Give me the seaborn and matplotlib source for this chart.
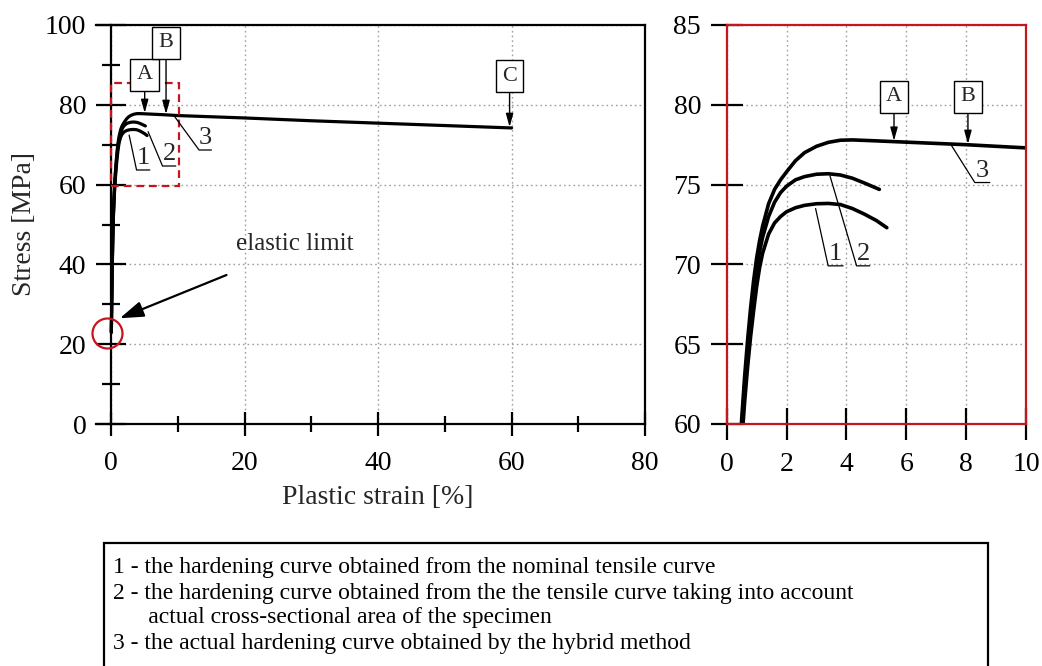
import matplotlib
matplotlib.use("Agg")
import matplotlib.pyplot as plt
from matplotlib.patches import Rectangle
import numpy as np
import pandas as pd
import seaborn as sns

# Hardening curves: plastic strain [%] vs stress [MPa]
strain_1 = [0.0, 0.1, 0.2, 0.3, 0.4, 0.5, 0.6, 0.7, 0.8, 0.9, 1.0, 1.1, 1.2, 1.4,
            1.6, 1.8, 2.0, 2.3, 2.6, 3.0, 3.4, 3.8, 4.2, 4.6, 5.0, 5.35]
stress_1 = [23.0, 35.0, 45.0, 51.5, 55.8, 58.8, 61.4, 63.6, 65.5, 67.1, 68.6, 69.8, 70.7, 71.9,
            72.6, 73.0, 73.3, 73.55, 73.7, 73.8, 73.82, 73.75, 73.5, 73.15, 72.75, 72.3]

strain_2 = [0.0, 0.1, 0.2, 0.3, 0.4, 0.5, 0.6, 0.7, 0.8, 0.9, 1.0, 1.1, 1.2, 1.4,
            1.6, 1.8, 2.0, 2.3, 2.6, 3.0, 3.4, 3.8, 4.2, 4.6, 5.1]
stress_2 = [23.0, 35.5, 45.5, 52.0, 56.5, 59.8, 62.4, 64.6, 66.6, 68.3, 69.7, 70.8, 71.7, 73.0,
            73.9, 74.5, 74.9, 75.3, 75.5, 75.65, 75.68, 75.6, 75.4, 75.1, 74.7]

strain_3 = [0.0, 0.1, 0.2, 0.3, 0.4, 0.5, 0.6, 0.7, 0.8, 0.9, 1.0, 1.1, 1.2, 1.4,
            1.6, 1.8, 2.0, 2.3, 2.6, 3.0, 3.4, 3.8, 4.2, 5.0, 6.0, 7.0, 8.0, 9.0,
            10.0, 20.0, 30.0, 40.0, 50.0, 60.0]
stress_3 = [23.0, 36.0, 46.0, 52.5, 57.0, 60.3, 63.0, 65.3, 67.3, 69.0, 70.4, 71.5, 72.4, 73.8,
            74.7, 75.3, 75.8, 76.5, 77.0, 77.4, 77.65, 77.78, 77.8, 77.74, 77.66, 77.58, 77.5, 77.4,
            77.3, 76.7, 76.0, 75.4, 74.8, 74.2]

curve_ids = ["1", "2", "3"]

# Strain points marked with letters on the hybrid curve
marked_strain = {"A": 5.0, "B": 8.2, "C": 59.7}
marked_strain_zoom = {"A": 5.59, "B": 8.06}

elastic_limit = 22.9

left_xticks = [0, 20, 40, 60, 80]
left_yticks = [0, 20, 40, 60, 80, 100]
right_xticks = [0, 2, 4, 6, 8, 10]
right_yticks = [60, 65, 70, 75, 80, 85]

legend_lines = [
    "1 - the hardening curve obtained from the nominal tensile curve",
    "2 - the hardening curve obtained from the the tensile curve taking into account",
    "      actual cross-sectional area of the specimen",
    "3 - the actual hardening curve obtained by the hybrid method",
]

df = pd.concat([
    pd.DataFrame({"strain": s, "stress": y, "curve": c})
    for s, y, c in zip([strain_1, strain_2, strain_3],
                       [stress_1, stress_2, stress_3], curve_ids)
], ignore_index=True)

sns.set_theme(style="white")
plt.rcParams["font.family"] = ["Liberation Serif", "DejaVu Serif"]

RED = "#c4161c"
GRID = dict(color="#a0a0a0", linestyle=(0, (1.2, 2.2)), linewidth=1.0)

fig = plt.figure(figsize=(10.42, 6.66), dpi=100)
ax1 = fig.add_axes([96 / 1042, 1 - 424 / 666, 549 / 1042, 399 / 666])
ax2 = fig.add_axes([726.7 / 1042, 1 - 424 / 666, 299.3 / 1042, 399 / 666])


def curve_value(curve, x):
    sub = df[df["curve"] == curve]
    return float(np.interp(x, sub["strain"], sub["stress"]))


box = dict(boxstyle="square,pad=0.28", fc="white", ec="black", lw=1.0)
arrow = dict(arrowstyle="-|>,head_length=0.8,head_width=0.22", color="black",
             lw=1.0, shrinkA=0, shrinkB=0, mutation_scale=10)

# ---------------- left: full curves ----------------
sns.lineplot(data=df, x="strain", y="stress", hue="curve", palette=["black"] * 3,
             sort=False, estimator=None, legend=False, linewidth=2.3, ax=ax1, zorder=3)
ax1.set_xlim(-2.3, 80)
ax1.set_ylim(0, 100)
ax1.set_xticks(left_xticks)
ax1.set_xticks([10, 30, 50, 70], minor=True)
ax1.set_yticks(left_yticks)
ax1.set_yticks([10, 30, 50, 70, 90], minor=True)
ax1.grid(True, which="major", **GRID)
ax1.set_axisbelow(True)
for side in ["top", "right", "bottom", "left"]:
    ax1.spines[side].set_color("black")
    ax1.spines[side].set_linewidth(1.6)
ax1.spines["left"].set_position(("data", 0))
ax1.tick_params(which="both", bottom=True, left=True, top=False, right=False)
ax1.tick_params(axis="x", which="major", direction="inout", length=17, width=1.6,
                labelsize=20, pad=11, colors="black")
ax1.tick_params(axis="x", which="minor", direction="inout", length=12, width=1.6,
                colors="black")
ax1.tick_params(axis="y", which="major", direction="inout", length=22, width=1.6,
                labelsize=20, pad=7, colors="black")
ax1.tick_params(axis="y", which="minor", direction="inout", length=13, width=1.6,
                colors="black")
ax1.set_xlabel("Plastic strain [%]", fontsize=20)
ax1.set_ylabel("Stress [MPa]", fontsize=20)
ax1.xaxis.set_label_coords(0.514, -0.152)
ax1.yaxis.set_label_coords(-0.108, 0.5)

# zoom frame
ax1.add_patch(Rectangle((0, 59.7), 10.2, 25.8, fill=False, edgecolor=RED,
                        linewidth=1.6, linestyle=(0, (3.5, 2.2)), zorder=4))

for key, ytext in zip(["A", "B", "C"], [87.5, 95.5, 87.2]):
    xs = marked_strain[key]
    ax1.annotate(key, xy=(xs, curve_value("3", xs) + 0.2), xytext=(xs, ytext),
                 ha="center", va="center", fontsize=16, bbox=box,
                 arrowprops=arrow, zorder=6)

# numbered leaders (left)
leaders_left = {
    "1": ((2.67, 72.4), (3.78, 63.66), 5.77),
    "2": ((5.51, 73.26), (7.67, 64.66), 9.66),
    "3": ((9.51, 77.0), (13.15, 68.67), 15.0),
}
for lab, (p0, p1, xend) in leaders_left.items():
    ax1.plot([p0[0], p1[0], xend], [p0[1], p1[1], p1[1]], color="black", lw=0.9, zorder=5)
    ax1.text((p1[0] + xend) / 2, p1[1] + 0.3, lab, ha="center", va="bottom", fontsize=19)

# elastic limit marker
ax1.plot([-0.72], [elastic_limit], marker="o", ms=21.6, mfc="none", mec=RED,
         mew=1.6, clip_on=False, zorder=7)
ax1.annotate("", xy=(1.27, 26.5), xytext=(17.26, 37.34),
             arrowprops=dict(arrowstyle="-|>,head_length=0.9,head_width=0.3",
                             color="black", lw=1.6, shrinkA=0, shrinkB=0,
                             mutation_scale=16), zorder=6)
ax1.text(27.5, 45.2, "elastic limit", ha="center", va="center", fontsize=18)

# ---------------- right: zoomed region ----------------
sns.lineplot(data=df, x="strain", y="stress", hue="curve", palette=["black"] * 3,
             sort=False, estimator=None, legend=False, linewidth=2.6, ax=ax2, zorder=3)
ax2.set_xlim(0, 10)
ax2.set_ylim(60, 85)
ax2.set_xticks(right_xticks)
ax2.set_yticks(right_yticks)
ax2.grid(True, which="major", **GRID)
ax2.set_axisbelow(True)
for side in ["top", "right", "bottom", "left"]:
    ax2.spines[side].set_color(RED)
    ax2.spines[side].set_linewidth(1.6)
    ax2.spines[side].set_zorder(8)
ax2.tick_params(which="both", bottom=True, left=True, top=False, right=False)
ax2.tick_params(axis="both", which="major", direction="inout", length=23, width=1.6,
                labelsize=20, colors="black")
ax2.tick_params(axis="x", pad=9)
ax2.tick_params(axis="y", pad=7)
ax2.set_xlabel("")
ax2.set_ylabel("")

for key in ["A", "B"]:
    xs = marked_strain_zoom[key]
    ax2.annotate(key, xy=(xs, curve_value("3", xs) + 0.05), xytext=(xs, 80.5),
                 ha="center", va="center", fontsize=16, bbox=box,
                 arrowprops=arrow, zorder=6)

leaders_right = {
    "1": ((2.97, 73.5), (3.39, 69.91), 3.89),
    "2": ((3.45, 75.55), (4.34, 69.91), 4.78),
    "3": ((7.51, 77.45), (8.29, 75.13), 8.79),
}
for lab, (p0, p1, xend) in leaders_right.items():
    ax2.plot([p0[0], p1[0], xend], [p0[1], p1[1], p1[1]], color="black", lw=0.9, zorder=5)
    ax2.text((p1[0] + xend) / 2, p1[1] + 0.06, lab, ha="center", va="bottom", fontsize=19)

# ---------------- caption box ----------------
fig.add_artist(Rectangle((104 / 1042, -0.02), (988 - 104) / 1042, 1 - 543 / 666 + 0.02,
                         transform=fig.transFigure, fill=False, edgecolor="black",
                         linewidth=1.6))
for i, line in enumerate(legend_lines):
    fig.text(113 / 1042, 1 - (568 + 25 * i) / 666, line, ha="left", va="center",
             fontsize=17, color="black")

fig.savefig("out.png", dpi=100)
